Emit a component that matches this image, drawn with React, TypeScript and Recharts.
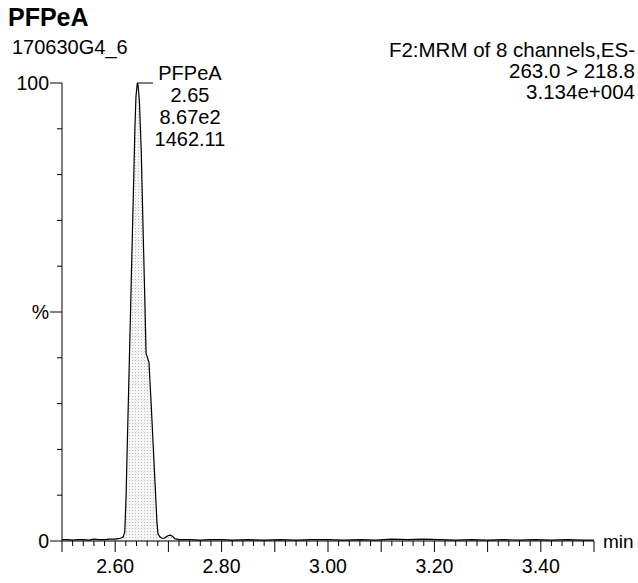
import React from 'react';
import { ComposedChart, Area, XAxis, YAxis, ReferenceLine, ReferenceDot } from 'recharts';

// retention time (min) and relative abundance (%)
const retentionTime = [
  2.5, 2.51, 2.52, 2.53, 2.54, 2.55, 2.56, 2.57, 2.58, 2.59, 2.6, 2.605, 2.61, 2.615, 2.618,
  2.6205, 2.6225, 2.6246, 2.6267, 2.6288, 2.6308, 2.6329, 2.635, 2.637, 2.639, 2.6415, 2.643,
  2.6455, 2.649, 2.652, 2.655, 2.658, 2.6635, 2.668, 2.6718, 2.676, 2.6785, 2.6805, 2.684,
  2.688, 2.692, 2.696, 2.7, 2.704, 2.708, 2.712, 2.72, 2.74, 2.76, 2.78, 2.8, 2.82, 2.85, 2.88,
  2.91, 2.94, 2.97, 3.0, 3.03, 3.06, 3.09, 3.12, 3.15, 3.18, 3.21, 3.24, 3.27, 3.3, 3.33, 3.36,
  3.39, 3.42, 3.45, 3.48, 3.5,
];
const relAbundance = [
  0.3, 0.3, 0.2, 0.3, 0.3, 0.2, 0.4, 0.3, 0.3, 0.4, 0.4, 0.5, 0.6, 0.9, 2.0,
  10, 20, 30, 40, 50, 60, 70, 80, 90, 97, 100, 99.5,
  96, 85, 70, 56, 41, 39, 29, 20, 10, 4, 1.5, 0.9,
  0.6, 0.6, 0.9, 1.2, 1.3, 1.0, 0.5, 0.3, 0.3, 0.2, 0.3, 0.3, 0.2, 0.3, 0.2,
  0.3, 0.2, 0.3, 0.3, 0.2, 0.3, 0.2, 0.4, 0.3, 0.4, 0.3, 0.2, 0.3, 0.2, 0.3, 0.2,
  0.3, 0.2, 0.3, 0.2, 0.2,
];

const xTickValues = [
  2.5, 2.52, 2.54, 2.56, 2.58, 2.6, 2.62, 2.64, 2.66, 2.68, 2.7, 2.72, 2.74, 2.76, 2.78, 2.8,
  2.82, 2.84, 2.86, 2.88, 2.9, 2.92, 2.94, 2.96, 2.98, 3.0, 3.02, 3.04, 3.06, 3.08, 3.1, 3.12,
  3.14, 3.16, 3.18, 3.2, 3.22, 3.24, 3.26, 3.28, 3.3, 3.32, 3.34, 3.36, 3.38, 3.4, 3.42, 3.44,
  3.46, 3.48, 3.5,
];
const xTickLabels = ['2.60', '2.80', '3.00', '3.20', '3.40'];
const yTickValues = [0, 10, 20, 30, 40, 50, 60, 70, 80, 90, 100];
const yTickLabels = ['0', '', '', '', '', '%', '', '', '', '', '100'];

const peakText = ['PFPeA', '2.65', '8.67e2', '1462.11'];
const peakApex = 2.6415;
const leaderEnd = 2.671;

const headerLeft = ['PFPeA', '170630G4_6'];
const headerRight = ['F2:MRM of 8 channels,ES-', '263.0 > 218.8', '3.134e+004'];

const FONT = '"Liberation Sans", Arial, Helvetica, sans-serif';
const data = retentionTime.map((t, i) => ({ t, v: relAbundance[i] }));

const XTick = (props: any) => {
  const { x, y, payload } = props;
  const v = payload.value as number;
  const tenth = Math.abs(v * 10 - Math.round(v * 10)) < 1e-6;
  const label = xTickLabels.find((l) => Math.abs(parseFloat(l) - v) < 1e-6);
  return (
    <g>
      <line x1={x} x2={x} y1={y} y2={y + (tenth ? 11 : 5)} stroke="#000" strokeWidth={1} />
      {label && (
        <text x={x} y={y + 32} textAnchor="middle" fontSize={19.5} fontFamily={FONT} fill="#000">
          {label}
        </text>
      )}
    </g>
  );
};

const YTick = (props: any) => {
  const { x, y, payload } = props;
  const label = yTickLabels[yTickValues.indexOf(payload.value)];
  return (
    <g>
      <line x1={x} x2={x - (label ? 12 : 5)} y1={y} y2={y} stroke="#000" strokeWidth={1} />
      {label && (
        <text x={x - 13} y={y} dy="0.36em" textAnchor="end" fontSize={19.5} fontFamily={FONT} fill="#000">
          {label}
        </text>
      )}
    </g>
  );
};

const PeakLabel = (props: any) => {
  const { cx, cy } = props;
  return (
    <g>
      {peakText.map((s, i) => (
        <text key={i} x={cx + 37} y={cy - 3 + i * 22} textAnchor="middle" fontSize={20} fontFamily={FONT} fill="#000">
          {s}
        </text>
      ))}
    </g>
  );
};

export default function App() {
  return (
    <div style={{ position: 'absolute', left: 0, top: 0, width: 638, height: 583, background: '#fff' }}>
      <ComposedChart width={638} height={583} data={data} margin={{ top: 83, right: 44, left: 0, bottom: 0 }}>
        <defs>
          <pattern id="stipple" width="3" height="3" patternUnits="userSpaceOnUse">
            <rect width="3" height="3" fill="#f6f6f6" />
            <rect x="0" y="0" width="1" height="1" fill="#bcbcbc" />
          </pattern>
        </defs>
        <XAxis
          dataKey="t"
          type="number"
          domain={[2.5, 3.5]}
          ticks={xTickValues}
          interval={0}
          height={42}
          tickSize={0}
          tickMargin={0}
          tickLine={false}
          axisLine={{ stroke: '#000', strokeWidth: 1 }}
          tick={<XTick />}
          allowDataOverflow
        />
        <YAxis
          type="number"
          domain={[0, 100]}
          ticks={yTickValues}
          interval={0}
          width={62}
          tickSize={0}
          tickMargin={0}
          tickLine={false}
          axisLine={{ stroke: '#000', strokeWidth: 1 }}
          tick={<YTick />}
        />
        <Area
          type="linear"
          dataKey="v"
          stroke="#000"
          strokeWidth={1.2}
          fill="url(#stipple)"
          fillOpacity={1}
          isAnimationActive={false}
          dot={false}
          activeDot={false}
        />
        <ReferenceLine
          segment={[
            { x: peakApex, y: 100 },
            { x: leaderEnd, y: 100 },
          ]}
          stroke="#000"
          strokeWidth={1}
        />
        <ReferenceDot x={leaderEnd} y={100} r={0} shape={<PeakLabel />} />
      </ComposedChart>
      <svg
        width={638}
        height={583}
        style={{ position: 'absolute', left: 0, top: 0, pointerEvents: 'none' }}
        fontFamily={FONT}
      >
        <text x={8} y={26} fontSize={25} fontWeight="bold" fill="#000">
          {headerLeft[0]}
        </text>
        <text x={12} y={54} fontSize={20} fill="#000">
          {headerLeft[1]}
        </text>
        {headerRight.map((s, i) => (
          <text key={i} x={635} y={57 + i * 21} fontSize={20.5} textAnchor="end" fill="#000">
            {s}
          </text>
        ))}
        <text x={603} y={548} fontSize={19} fill="#000">
          min
        </text>
      </svg>
    </div>
  );
}
